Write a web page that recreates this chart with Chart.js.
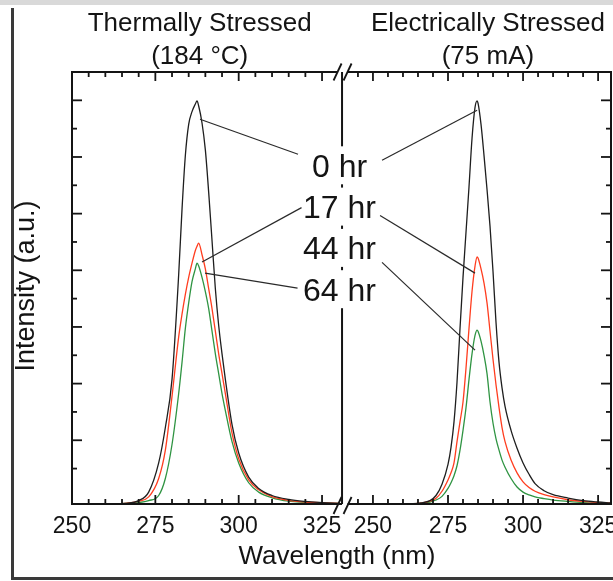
<!DOCTYPE html>
<html>
<head>
<meta charset="utf-8">
<script src="https://cdn.jsdelivr.net/npm/chart.js@4.4.1/dist/chart.umd.min.js"></script>
<style>
  html, body { margin: 0; padding: 0; background: #fff; }
  #wrap { position: relative; width: 613px; height: 581px; }
</style>
</head>
<body>
<div id="wrap"><canvas id="spectra" width="613" height="581"></canvas></div>
<script>
// Panel headings
const panelTitles = [['Thermally Stressed', '(184 °C)'], ['Electrically Stressed', '(75 mA)']];
const hourLabels = ['0 hr', '17 hr', '44 hr', '64 hr'];

// Thermally stressed panel (left), wavelength in nm, intensity in a.u.
const thermalNm = [262, 266, 270, 273, 276, 278, 280, 282, 283, 284, 285, 286, 287, 287.5, 288, 289,
  290, 291, 292, 293, 294, 295, 296, 298, 300, 303, 306, 310, 315, 320, 325, 330];
const thermal0h = [0, 0.02, 0.12, 0.42, 1.45, 2.7, 4.4, 8.1, 10.4, 12.3, 13.4, 13.85, 14.12, 14.23, 14.05, 13.45,
  12.5, 11.0, 9.3, 7.6, 6.3, 5.3, 4.4, 2.8, 1.8, 0.95, 0.55, 0.3, 0.16, 0.09, 0.05, 0.02];
const thermal17h = [0, 0.02, 0.1, 0.25, 0.9, 1.9, 3.8, 5.9, 6.7, 7.4, 8.0, 8.5, 8.95, 9.1, 9.21, 8.8,
  8.3, 7.6, 6.9, 6.1, 5.3, 4.6, 3.9, 2.5, 1.6, 0.85, 0.5, 0.26, 0.13, 0.07, 0.04, 0.02];
const thermal64h = [0, 0.02, 0.05, 0.12, 0.3, 0.9, 2.1, 3.9, 5.0, 6.2, 7.1, 7.85, 8.3, 8.5, 8.4, 8.0,
  7.5, 6.9, 6.1, 5.3, 4.6, 3.9, 3.3, 2.2, 1.45, 0.75, 0.42, 0.22, 0.1, 0.06, 0.03, 0.02];

// Electrically stressed panel (right)
const electricalNm = [262, 266, 269, 271, 273, 275, 276, 277, 278, 279, 280, 281, 282, 283, 284, 284.7, 285,
  286, 287, 288, 289, 290, 291, 292, 293, 294, 296, 298, 300, 302, 304, 307, 310, 315, 320, 325, 329];
const electrical0h = [0, 0.04, 0.12, 0.3, 0.7, 1.4, 2.0, 2.9, 4.3, 6.2, 8.0, 9.6, 11.2, 12.9, 14.0, 14.23, 14.15,
  13.4, 12.3, 11.1, 9.8, 8.2, 6.4, 5.0, 4.1, 3.45, 2.6, 1.97, 1.45, 1.05, 0.72, 0.47, 0.33, 0.21, 0.12, 0.07, 0.04];
const electrical17h = [0, 0.03, 0.1, 0.2, 0.45, 0.85, 1.1, 1.45, 2.2, 2.9, 3.6, 4.8, 6.2, 7.5, 8.4, 8.72, 8.68,
  8.3, 7.8, 7.1, 6.1, 5.1, 4.2, 3.4, 2.7, 2.2, 1.55, 1.1, 0.78, 0.58, 0.45, 0.33, 0.25, 0.15, 0.09, 0.05, 0.03];
const electrical44h = [0, 0.02, 0.07, 0.14, 0.27, 0.55, 0.75, 1.0, 1.35, 1.9, 2.6, 3.4, 4.4, 5.3, 5.95, 6.14, 6.1,
  5.75, 5.25, 4.6, 3.6, 2.85, 2.3, 1.9, 1.55, 1.3, 0.9, 0.6, 0.42, 0.32, 0.25, 0.19, 0.14, 0.09, 0.05, 0.03, 0.02];

// Axis windows and ticks
const thermalView = [250, 331];
const electricalView = [239.7, 329.3];
const intensityView = [0, 15.25];
const thermalTicks = [255, 260, 265, 270, 275, 280, 285, 290, 295, 300, 305, 310, 315, 320, 325];
const electricalTicks = [245, 250, 255, 260, 265, 270, 275, 280, 285, 290, 295, 300, 305, 310, 315, 320, 325];
const wavelengthLabels = [250, 275, 300, 325];
const intensityTicks = [1.25, 2.25, 3.25, 4.25, 5.25, 6.25, 7.25, 8.25, 9.25, 10.25, 11.25, 12.25, 13.25, 14.25];
const intensityMajor = [2.25, 4.25, 6.25, 8.25, 10.25, 12.25, 14.25];

const curveColors = ['#1e1e1e', '#ff3d1f', '#2f9442'];
const ink = '#141414';
const face = '"Liberation Sans", Arial, Helvetica, sans-serif';
const panelSplit = 0.501; // share of the plot width taken by the left panel

// callouts: label row, start offset from label centre, target panel and point
const leaders = [
  { row: 0, from: [-41.5, -11], axis: 'xL', to: [288.4, 13.58] },
  { row: 0, from: [42.5, -5], axis: 'xR', to: [284.7, 13.9] },
  { row: 1, from: [-38, 1], axis: 'xL', to: [289.0, 8.54] },
  { row: 1, from: [40.5, 9], axis: 'xR', to: [284.0, 8.15] },
  { row: 2, from: [42.5, 14.5], axis: 'xR', to: [284.0, 5.43] },
  { row: 3, from: [-42, -1], axis: 'xL', to: [289.9, 8.15] }
];

function spectrum(axisID, nm, values, color) {
  return {
    xAxisID: axisID,
    yAxisID: 'y',
    data: nm.map((w, i) => ({ x: w, y: values[i] })),
    borderColor: color,
    borderWidth: 1.3,
    pointRadius: 0,
    fill: false,
    cubicInterpolationMode: 'monotone'
  };
}

function line(ctx, x1, y1, x2, y2) {
  ctx.beginPath();
  ctx.moveTo(x1, y1);
  ctx.lineTo(x2, y2);
  ctx.stroke();
}

const panelDecor = {
  id: 'panelDecor',
  beforeDraw(chart) {
    const ctx = chart.ctx;
    ctx.save();
    ctx.fillStyle = '#fff';
    ctx.fillRect(0, 0, chart.width, chart.height);
    ctx.fillStyle = '#d9d9d9';
    ctx.fillRect(0, 0, chart.width, 5);
    ctx.fillStyle = '#3a3a3a';
    ctx.fillRect(11, 8, 3, 572);
    ctx.fillRect(11, 577, chart.width - 11, 3);
    ctx.restore();
  },
  afterDatasetsDraw(chart) {
    const { ctx, chartArea: a, scales } = chart;
    const xL = scales.xL, xR = scales.xR, y = scales.y;
    const split = xL.getPixelForValue(thermalView[1]);
    ctx.save();
    ctx.strokeStyle = ink;
    ctx.fillStyle = ink;
    ctx.lineCap = 'butt';

    // frame and panel divider
    ctx.lineWidth = 2;
    line(ctx, a.left, a.top - 1, a.left, a.bottom + 1);
    line(ctx, a.right, a.top - 1, a.right, a.bottom + 1);
    line(ctx, a.left, a.top, split - 4.5, a.top);
    line(ctx, split + 5.5, a.top, a.right, a.top);
    line(ctx, a.left, a.bottom, split, a.bottom);
    line(ctx, split + 5.5, a.bottom, a.right, a.bottom);
    line(ctx, split, a.top, split, a.bottom);

    // axis break marks
    ctx.lineWidth = 1.8;
    [a.top, a.bottom + 1.5].forEach(yy => {
      [split - 4.5, split + 5.5].forEach(cx => line(ctx, cx - 4, yy + 8.5, cx + 4, yy - 8.5));
    });

    // wavelength ticks, inward on top and bottom
    ctx.lineWidth = 1.8;
    const xTicks = [[xL, thermalTicks], [xR, electricalTicks]];
    xTicks.forEach(([sc, vals]) => {
      vals.forEach(v => {
        const px = sc.getPixelForValue(v);
        const len = wavelengthLabels.includes(v) ? 9 : 5;
        line(ctx, px, a.bottom, px, a.bottom - len);
        line(ctx, px, a.top, px, a.top + len);
      });
    });

    // intensity ticks on both outer axes
    intensityTicks.forEach(v => {
      const py = y.getPixelForValue(v);
      const len = intensityMajor.includes(v) ? 10 : 5;
      line(ctx, a.left, py, a.left + len, py);
      line(ctx, a.right, py, a.right - len, py);
    });

    // tick labels
    ctx.font = '23px ' + face;
    ctx.textAlign = 'center';
    ctx.textBaseline = 'alphabetic';
    [xL, xR].forEach(sc => {
      wavelengthLabels.forEach(v => ctx.fillText(String(v), sc.getPixelForValue(v), a.bottom + 29));
    });

    // axis titles
    ctx.font = '26px ' + face;
    ctx.fillText('Wavelength (nm)', 337, a.bottom + 60);
    ctx.save();
    ctx.translate(27, (a.top + a.bottom) / 2 - 2);
    ctx.rotate(-Math.PI / 2);
    ctx.textBaseline = 'middle';
    ctx.font = '27px ' + face;
    ctx.fillText('Intensity (a.u.)', 0, 0);
    ctx.restore();

    // panel headings, centred over the emission peaks
    [[xL, panelTitles[0]], [xR, panelTitles[1]]].forEach(([sc, lines]) => {
      const cx = sc.getPixelForValue(288.3);
      ctx.fillText(lines[0], cx, 31);
      ctx.fillText(lines[1], cx, 64);
    });

    // callout labels over the divider
    ctx.font = '32px ' + face;
    const labelX = split - 2.5;
    const rowY = r => a.top + 93.3 + r * 41.3;
    hourLabels.forEach((txt, r) => {
      const w = ctx.measureText(txt).width;
      const cy = rowY(r);
      ctx.fillStyle = '#fff';
      ctx.fillRect(labelX - w / 2 - 3, cy - 19, w + 6, 38);
      ctx.fillStyle = ink;
      ctx.fillText(txt, labelX, cy + 11.5);
    });

    // leader lines to the curves
    ctx.lineWidth = 1.2;
    ctx.strokeStyle = '#2a2a2a';
    leaders.forEach(l => {
      const sc = scales[l.axis];
      const sx = labelX + l.from[0];
      const sy = rowY(l.row) + l.from[1];
      line(ctx, sx, sy, sc.getPixelForValue(l.to[0]), y.getPixelForValue(l.to[1]));
    });
    ctx.restore();
  }
};

new Chart(document.getElementById('spectra'), {
  type: 'line',
  data: {
    datasets: [
      spectrum('xL', thermalNm, thermal0h, curveColors[0]),
      spectrum('xR', electricalNm, electrical0h, curveColors[0]),
      spectrum('xL', thermalNm, thermal17h, curveColors[1]),
      spectrum('xR', electricalNm, electrical17h, curveColors[1]),
      spectrum('xL', thermalNm, thermal64h, curveColors[2]),
      spectrum('xR', electricalNm, electrical44h, curveColors[2])
    ]
  },
  options: {
    responsive: false,
    animation: false,
    layout: { padding: { left: 72, top: 72, right: 2, bottom: 77 } },
    plugins: { legend: { display: false }, tooltip: { enabled: false }, title: { display: false } },
    scales: {
      xL: {
        type: 'linear', display: false,
        min: thermalView[0],
        max: thermalView[0] + (thermalView[1] - thermalView[0]) / panelSplit
      },
      xR: {
        type: 'linear', display: false,
        min: electricalView[1] - (electricalView[1] - electricalView[0]) / (1 - panelSplit),
        max: electricalView[1]
      },
      y: { type: 'linear', display: false, min: intensityView[0], max: intensityView[1] }
    }
  },
  plugins: [panelDecor]
});
</script>
</body>
</html>
